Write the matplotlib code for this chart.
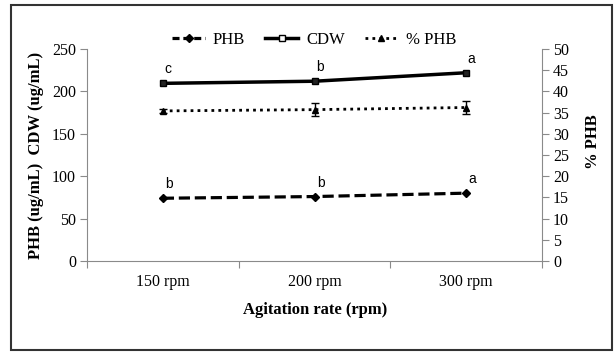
import matplotlib.pyplot as plt
from matplotlib.patches import Rectangle
from matplotlib.lines import Line2D

agitation = ['150 rpm', '200 rpm', '300 rpm']
phb = [74, 76, 80]
cdw = [209.5, 212, 222]
phbPercent = [35.4, 35.7, 36.2]
phbPercentErr = [0.5, 1.5, 1.6]
phbLetters = ['b', 'b', 'a']
cdwLetters = ['c', 'b', 'a']

axisGrey = '#8a8a8a'
serif = ['Liberation Serif', 'DejaVu Serif']
sans = ['Liberation Sans', 'DejaVu Sans']
W, H = 614, 352

fig = plt.figure(figsize=(W / 100, H / 100), dpi=100)
fig.patches.append(Rectangle((11 / W, 2 / H), 601 / W, 345 / H,
                             transform=fig.transFigure, fill=False,
                             edgecolor='#333333', linewidth=1.5))

ax = fig.add_axes([87 / W, 1 - 261 / H, 455 / W, 212 / H])
ax2 = ax.twinx()

x = list(range(len(agitation)))

ax.plot(x, phb, color='black', linestyle=(0, (3.5, 1.5)), linewidth=2.3,
        marker='D', markersize=4.5, clip_on=False)
ax.plot(x, cdw, color='black', linestyle='-', linewidth=2.5,
        marker='s', markersize=5, markerfacecolor='#222222',
        markeredgecolor='black', clip_on=False)
ax2.errorbar(x, phbPercent, yerr=phbPercentErr, color='black',
             linestyle=(0, (1, 1.5)), linewidth=2, marker='^', markersize=5,
             capsize=3, elinewidth=1, capthick=1)

for i in x:
    ax.annotate(phbLetters[i], (x[i], phb[i]), xytext=(6, 14),
                textcoords='offset pixels', ha='center', va='center',
                fontsize=10, family=sans)
    ax.annotate(cdwLetters[i], (x[i], cdw[i]), xytext=(5, 14),
                textcoords='offset pixels', ha='center', va='center',
                fontsize=10, family=sans)

ax.set_xlim(-0.5, 2.5)
ax.set_ylim(0, 250)
ax2.set_ylim(0, 50)
ax.set_yticks(range(0, 251, 50))
ax2.set_yticks(range(0, 51, 5))

ax.set_xticks([-0.5, 0.5, 1.5, 2.5])
ax.set_xticklabels([])
ax.set_xticks(x, minor=True)
ax.set_xticklabels(agitation, minor=True, fontsize=11.5, family=serif)
ax.tick_params(axis='x', which='major', direction='out', length=5,
               color=axisGrey)
ax.tick_params(axis='x', which='minor', length=0, pad=9)
ax.tick_params(axis='y', direction='out', length=5, color=axisGrey,
               labelsize=11.5, pad=3)
ax2.tick_params(axis='y', direction='out', length=5, color=axisGrey,
                labelsize=11.5, pad=3)
for lbl in ax.get_yticklabels() + ax2.get_yticklabels():
    lbl.set_family(serif)

for a in (ax, ax2):
    a.spines['top'].set_visible(False)
    for s in a.spines.values():
        s.set_color(axisGrey)
ax.spines['right'].set_visible(False)
ax2.spines['left'].set_visible(False)
ax2.spines['bottom'].set_visible(False)

fig.text(36 / W, 1 - 155 / H, 'PHB (ug/mL)  CDW (ug/mL)', rotation=90,
         ha='center', va='center', fontsize=12, fontweight='bold',
         family=serif)
fig.text(593 / W, 1 - 142 / H, '% PHB', rotation=90, ha='center',
         va='center', fontsize=12, fontweight='bold', family=serif)
fig.text(315 / W, 1 - 310 / H, 'Agitation rate (rpm)', ha='center',
         va='center', fontsize=12, fontweight='bold', family=serif)

handles = [
    Line2D([], [], color='black', linestyle=(0, (2.2, 1.2)), linewidth=2.3,
           marker='D', markersize=4.5),
    Line2D([], [], color='black', linestyle='-', linewidth=2.5,
           marker='s', markersize=5, markerfacecolor='white'),
    Line2D([], [], color='black', linestyle=(0, (1, 1.5)), linewidth=2,
           marker='^', markersize=4),
]
fig.legend(handles, ['PHB', 'CDW', '% PHB'], loc='center',
           bbox_to_anchor=(314 / W, 1 - 40 / H), ncol=3, frameon=False,
           prop={'family': serif, 'size': 12}, handlelength=2.0,
           columnspacing=1.2, handletextpad=0.45)

fig.savefig('out.png', dpi=100)
